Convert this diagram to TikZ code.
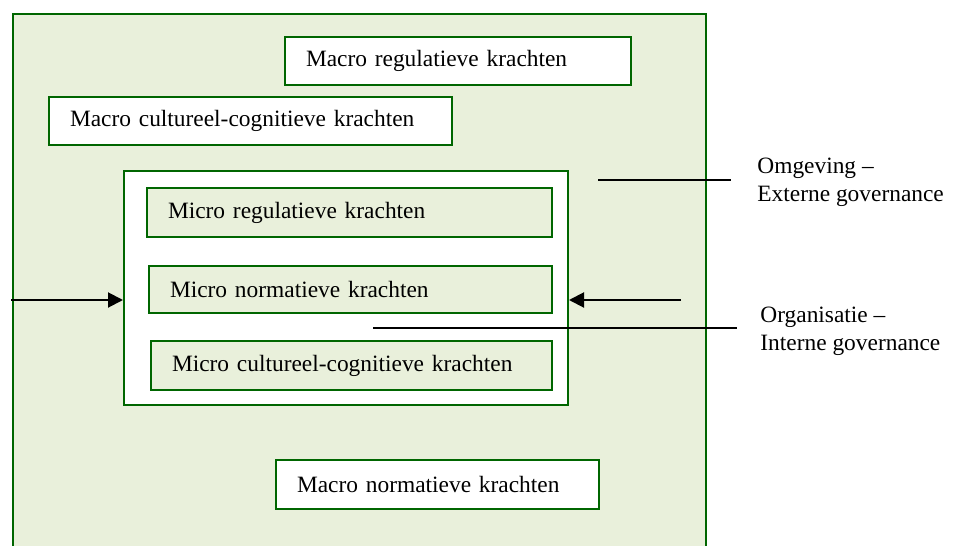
\documentclass[tikz,border=0pt]{standalone}
\usepackage{fontspec}
\setmainfont{Liberation Serif}
\usetikzlibrary{arrows.meta}
\definecolor{fieldgreen}{RGB}{233,240,219}
\definecolor{edgegreen}{RGB}{0,102,0}
\newcommand\boxfont{\fontsize{11.7}{14.2}\selectfont}
\tikzset{
  box/.style={draw=edgegreen, line width=1pt, rectangle, inner xsep=10.5pt, inner ysep=0pt,
    align=left, font=\boxfont},
  macrobox/.style={box, fill=white},
  microbox/.style={box, fill=fieldgreen},
  label/.style={align=left, inner sep=0pt, anchor=west, font=\boxfont},
  pointer/.style={line width=0.7pt},
  push/.style={line width=1pt, -{Triangle[length=7.5pt,width=7.5pt]}}
}
\begin{document}
\begin{tikzpicture}[x=0.5pt, y=-0.5pt]
  \useasboundingbox (0,0) rectangle (955,546);
  % environment field, open at the bottom
  \fill[fieldgreen] (13,14) rectangle (706,548);
  \draw[edgegreen, line width=1pt] (13,548) -- (13,14) -- (706,14) -- (706,548);

  % macro forces
  \node[macrobox, minimum width=173pt, minimum height=24pt, text width=152pt] (mreg) at (458,61) {Macro regulatieve krachten};
  \node[macrobox, minimum width=201.5pt, minimum height=24pt, text width=180.5pt] (mcult) at (250.5,121) {Macro cultureel-cognitieve krachten};
  \node[macrobox, minimum width=161.5pt, minimum height=24.5pt, text width=140.5pt] (mnorm) at (437.5,484.5) {Macro normatieve krachten};

  % organisation
  \node[draw=edgegreen, line width=1pt, fill=white, minimum width=222pt, minimum height=117pt, inner sep=0pt] (org) at (346,288) {};
  \node[microbox, minimum width=202.5pt, minimum height=24.5pt, text width=181.5pt] (ureg) at (349.5,212.5) {Micro regulatieve krachten};
  \node[microbox, minimum width=201.5pt, minimum height=23.5pt, text width=180.5pt] (unorm) at (350.5,289.5) {Micro normatieve krachten};
  \node[microbox, minimum width=200.5pt, minimum height=24.5pt, text width=179.5pt] (ucult) at (351.5,365.5) {Micro cultureel-cognitieve krachten};

  % pressure on the organisation from both sides
  \coordinate (lstart) at (11,300);
  \coordinate (rstart) at (681,300);
  \draw[push] (lstart) -- (lstart -| org.west);
  \draw[push] (rstart) -- (rstart -| org.east);

  % side labels
  \node[label] (omg) at (757,182) {Omgeving –\\Externe governance};
  \node[label] (orgl) at (760,331) {Organisatie –\\Interne governance};
  \coordinate (omgA) at (598,180);
  \coordinate (omgB) at (731,180);
  \coordinate (orgA) at (373,328);
  \coordinate (orgB) at (737,328);
  \draw[pointer] (omgA) -- (omgB);
  \draw[pointer] (orgA) -- (orgB);
\end{tikzpicture}
\end{document}
